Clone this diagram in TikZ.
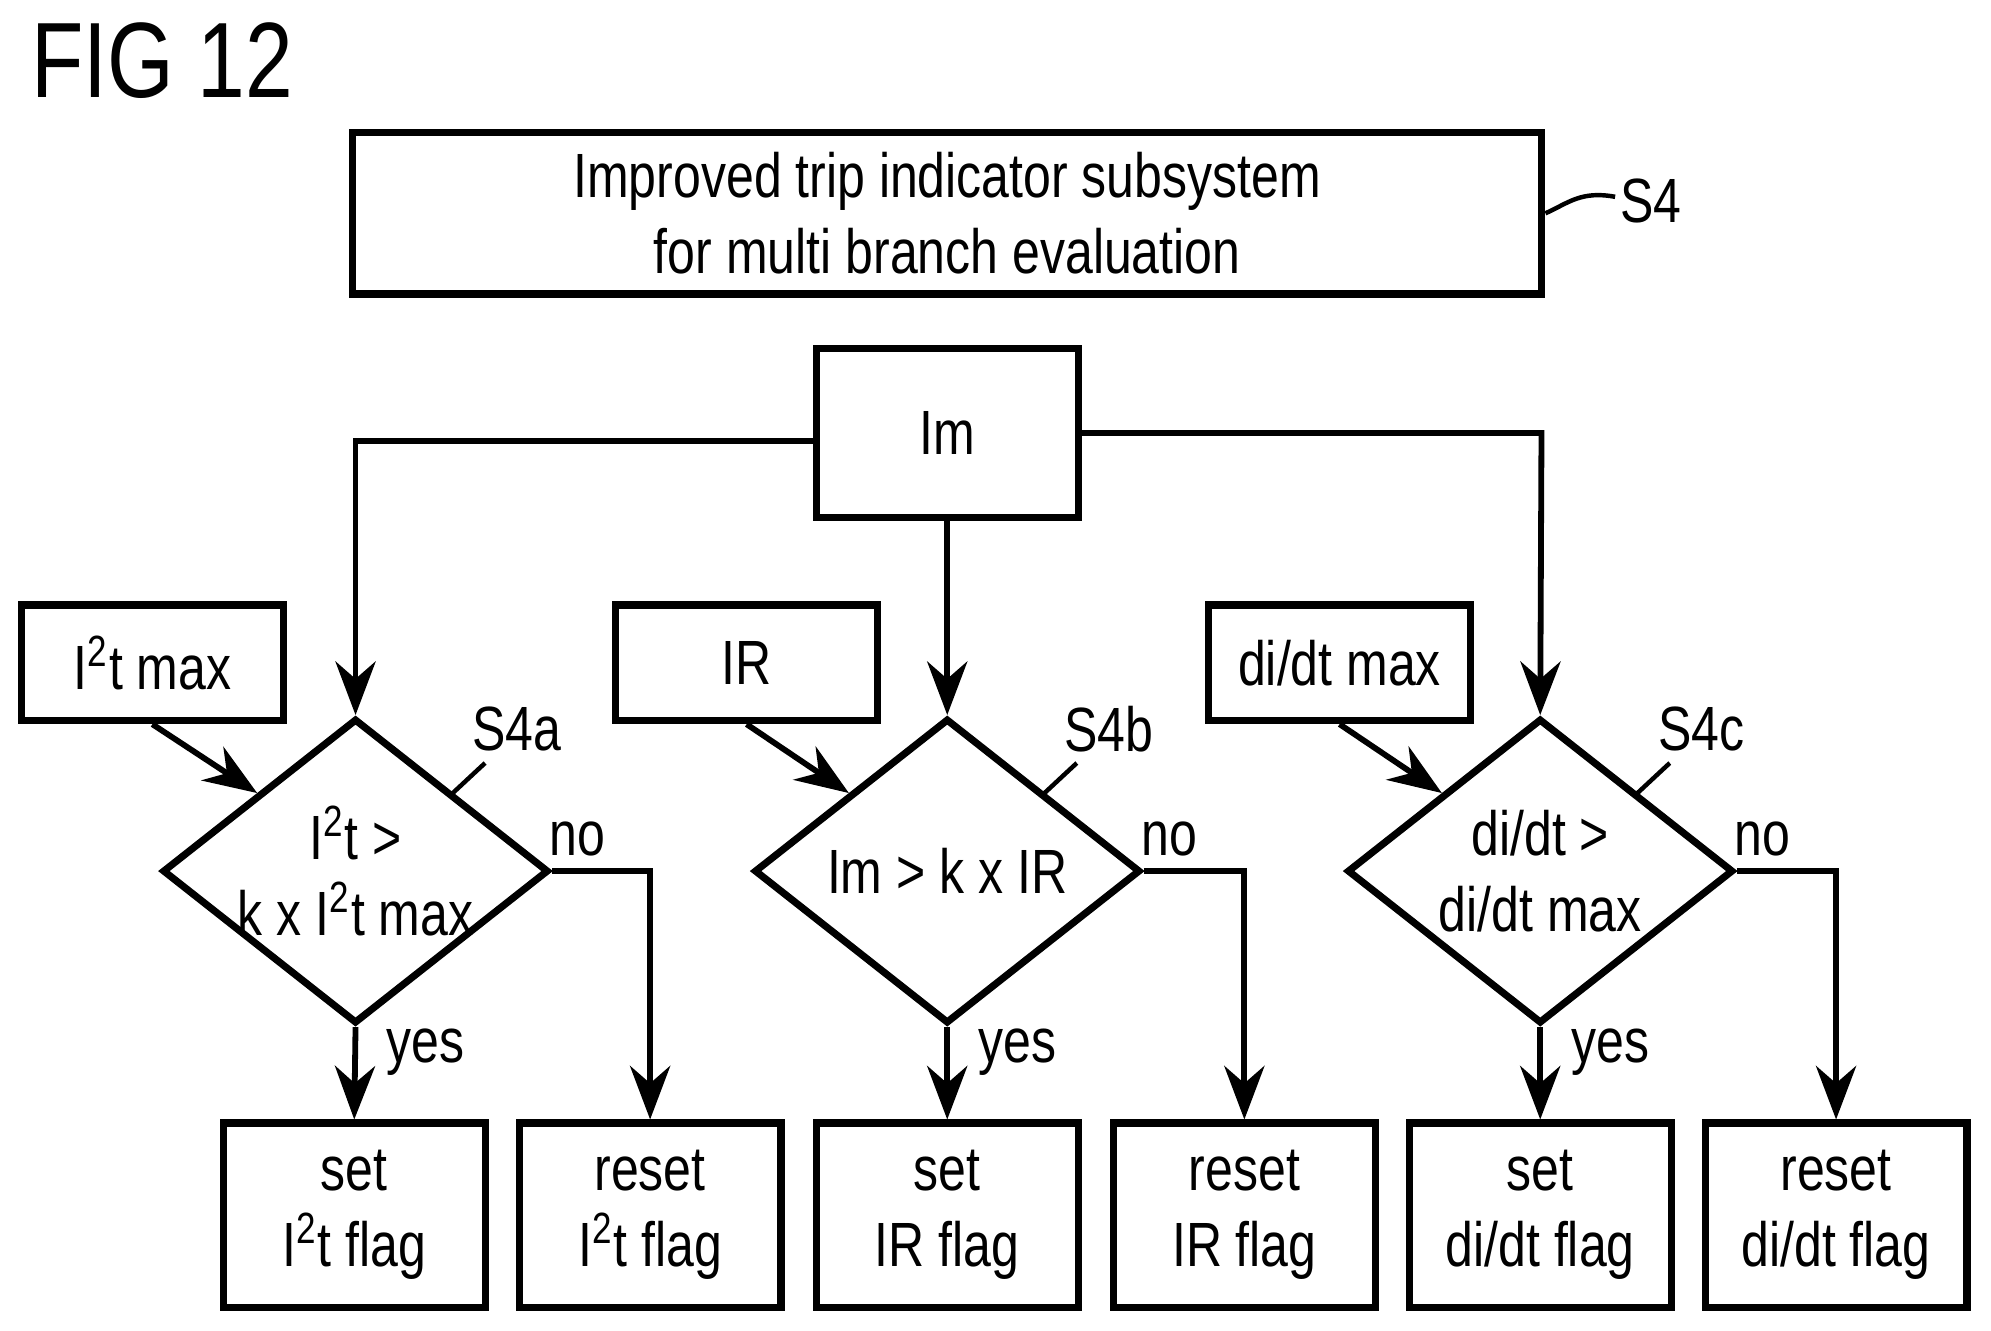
\documentclass[tikz,border=0pt]{standalone}
\usepackage{fontspec}
\setmainfont{Liberation Sans}[FakeStretch=0.8]
\usetikzlibrary{shapes.geometric,arrows.meta}
\begin{document}
\begin{tikzpicture}[x=0.01cm,y=-0.01cm,
  every node/.style={font=\fontsize{14}{17}\selectfont},
  every label/.style={align=center,font=\fontsize{14}{17}\selectfont},
  box/.style={draw,line width=1.6pt,minimum width=2.06cm,align=center,inner sep=0pt},
  dia/.style={draw,line width=1.6pt,diamond,minimum width=3.04cm,minimum height=2.4cm,inner sep=0pt},
  ln/.style={line width=1.3pt},
  ar/.style={ln,-{Stealth[length=12pt,width=9pt]}},
  lead/.style={line width=1pt}]
\useasboundingbox (0,0) rectangle (1568,1048);
\node[font=\fontsize{24}{28}\selectfont,anchor=west] (fig) at (12,48) {FIG 12};
\node[box,minimum width=9.36cm,minimum height=1.27cm] (top) at (746,168) {Improved trip indicator subsystem\\for multi branch evaluation};
\node (s4) at (1300,158) {S4};
\draw[lead] (top.east) .. controls (1235,160) and (1245,150) .. (1272,155);
\node[box,minimum height=1.33cm] (im) at (746,341) {Im};
\foreach \n/\x/\t in {i1/120/{I\textsuperscript{2}t max},i2/588/IR,i3/1055/{di/dt max}}
  \node[box,minimum height=0.91cm] (\n) at (\x,522) {\t};
\node[dia,label=center:{I\textsuperscript{2}t >\\k x I\textsuperscript{2}t max}] (d1) at (280,686) {};
\node[dia,label=center:{Im > k x IR}] (d2) at (746,686) {};
\node[dia,label=center:{di/dt >\\di/dt max}] (d3) at (1213,686) {};
\foreach \n/\x/\t in {b1/279/{set\\I\textsuperscript{2}t flag},b2/512/{reset\\I\textsuperscript{2}t flag},b3/746/{set\\IR flag},b4/980/{reset\\IR flag},b5/1213/{set\\di/dt flag},b6/1446/{reset\\di/dt flag}}
  \node[box,minimum height=1.45cm] (\n) at (\x,957) {\t};
\coordinate (cl) at (280,347); \coordinate (cr) at (1214,341);
\draw[ar] (im.west |- cl) -- (cl) -- (d1.north);
\draw[ar] (im.east |- cr) -- (cr) -- (d3.north);
\draw[ar] (im.south) -- (d2.north);
\draw[ar] (i1.south) -- (d1.north west);
\draw[ar] (i2.south) -- (d2.north west);
\draw[ar] (i3.south) -- (d3.north west);
\foreach \d/\y/\r/\s in {d1/b1/b2/S4a,d2/b3/b4/S4b,d3/b5/b6/S4c}{
  \draw[ar] (\d.south) -- (\y.north);
  \draw[ar] (\d.east) -| (\r.north);
  \node at ([xshift=0.2cm,yshift=0.25cm]\d.east) {no};
  \node at ([xshift=0.55cm,yshift=-0.2cm]\d.south) {yes};
  \node (\s) at ([xshift=1.27cm,yshift=1.12cm]\d.center) {\s};
  \draw[lead] ([xshift=0.75cm,yshift=0.6cm]\d.center) .. controls +(0.12,0.02) and +(-0.12,-0.1) .. ([xshift=1.02cm,yshift=0.85cm]\d.center);
}
\end{tikzpicture}
\end{document}
